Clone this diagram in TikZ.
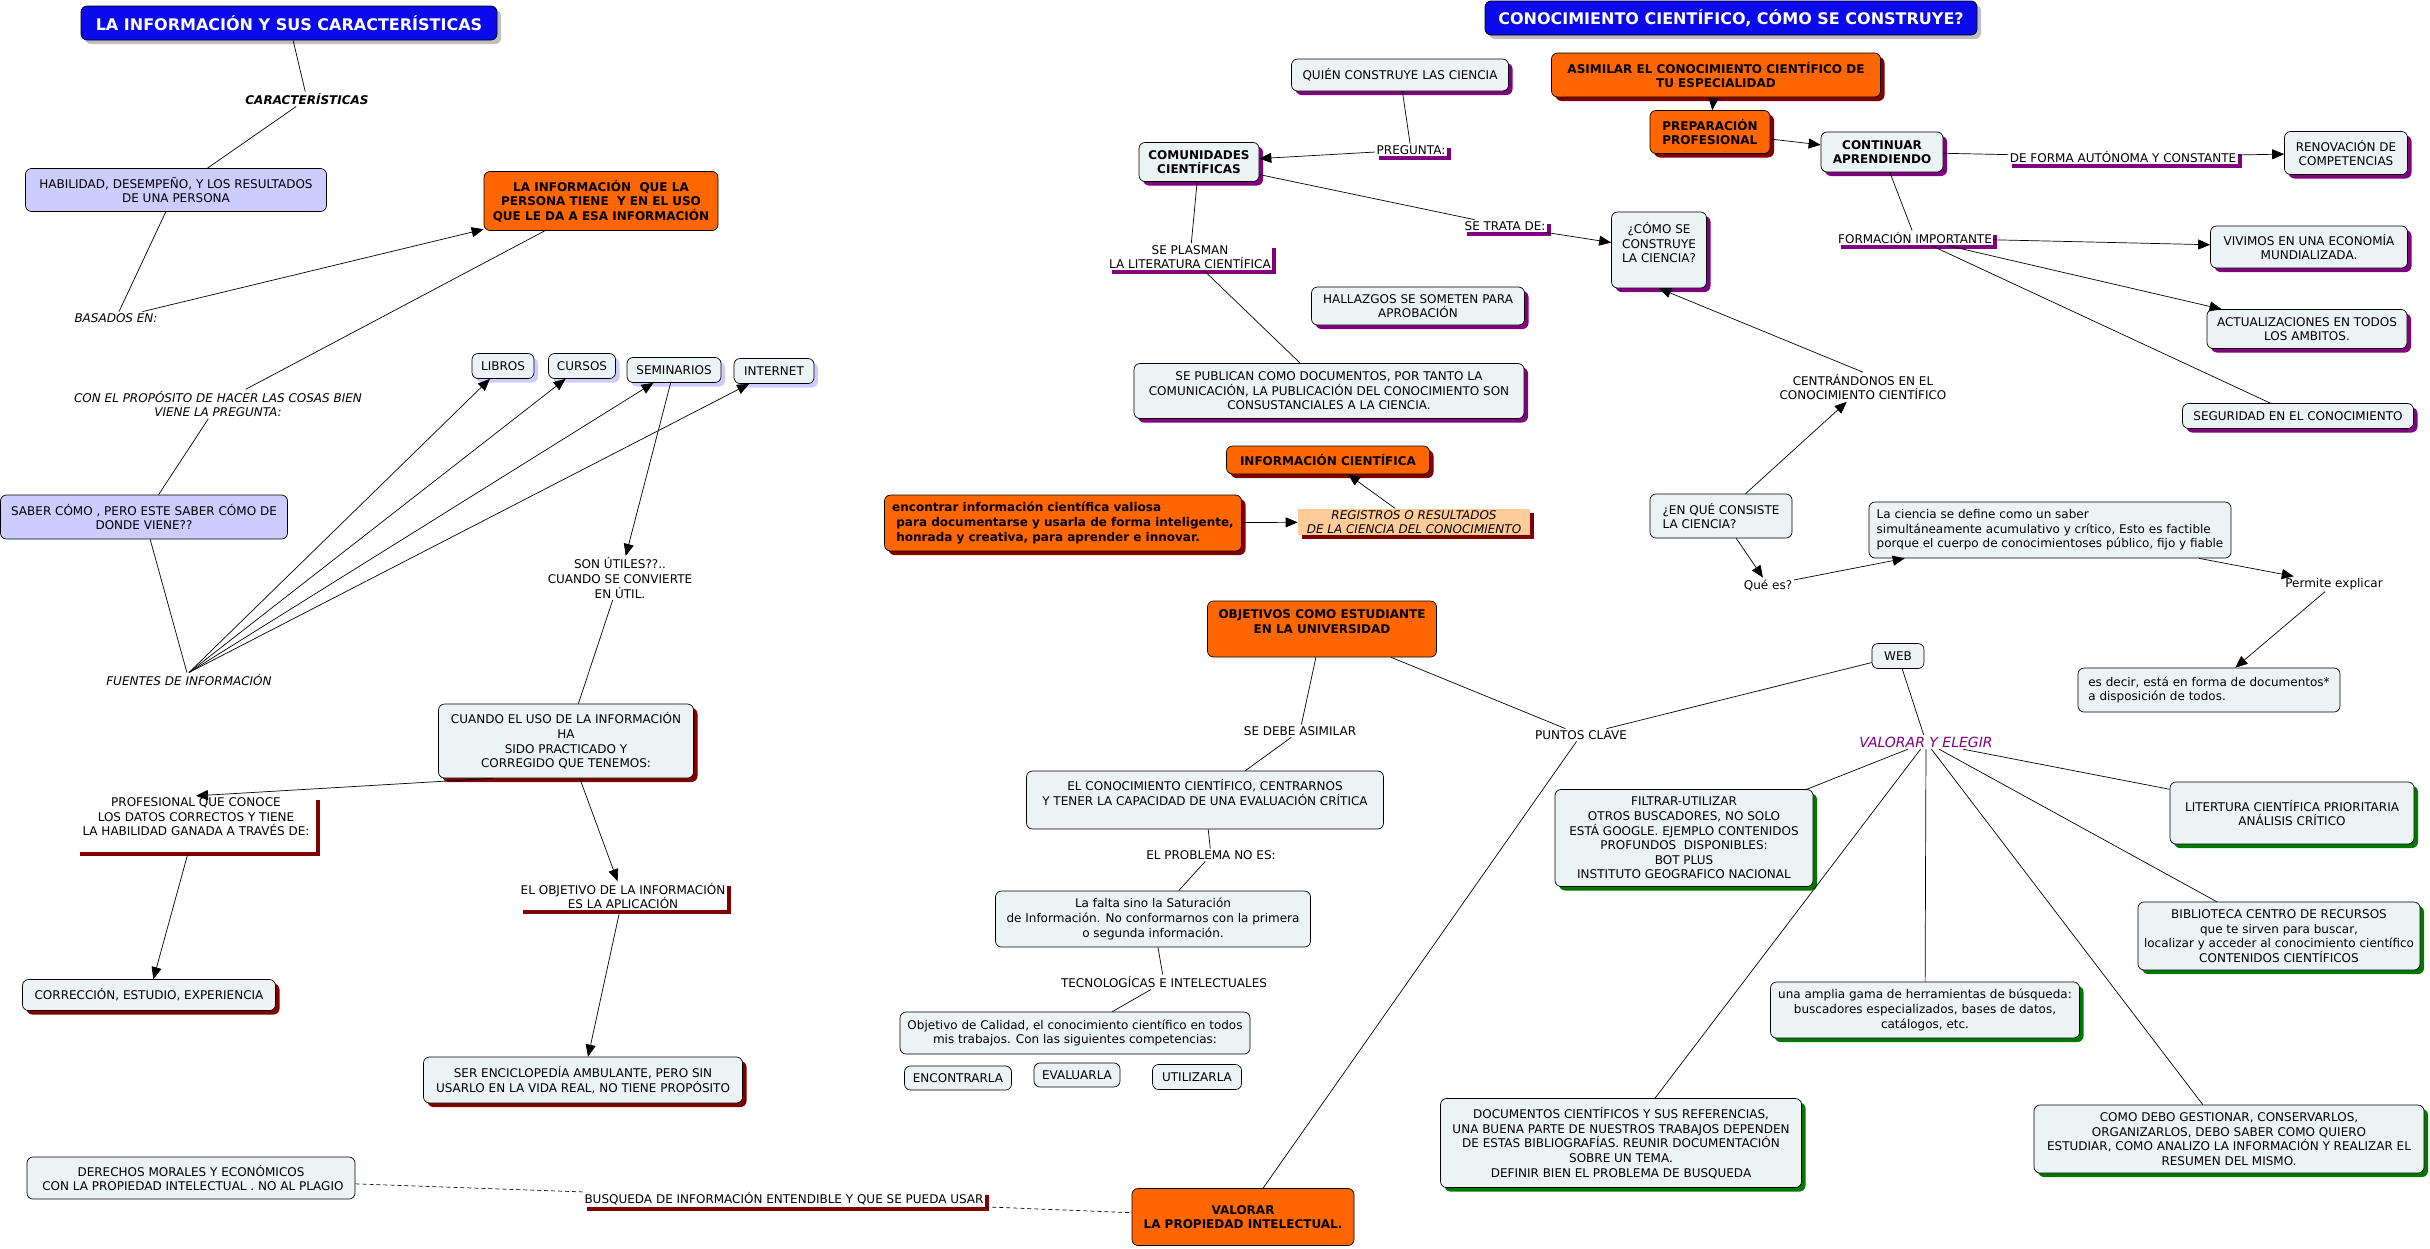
\documentclass[tikz,border=0pt]{standalone}
\usepackage{fontspec}
\setmainfont{DejaVu Sans}
\usepackage{xcolor}
\usetikzlibrary{arrows.meta, shadows}

\definecolor{cmblue}{RGB}{10,10,235}
\definecolor{cmorange}{RGB}{255,102,0}
\definecolor{cmlav}{RGB}{204,204,255}
\definecolor{cmpale}{RGB}{236,243,245}
\definecolor{cmmaroon}{RGB}{128,0,0}
\definecolor{cmpurple}{RGB}{128,0,128}
\definecolor{cmgreen}{RGB}{0,120,0}
\definecolor{cmpeach}{RGB}{255,204,153}
\definecolor{cmgrey}{RGB}{190,190,190}

\newcommand\cmfont{\fontsize{12}{14.6}\selectfont}

\tikzset{
  cbox/.style={draw=black, line width=0.7pt, rounded corners=6pt, align=center, inner xsep=5pt, inner ysep=3pt},
  palebox/.style={cbox, fill=cmpale},
  lavbox/.style={cbox, fill=cmlav},
  orbox/.style={cbox, fill=cmorange, font=\cmfont\bfseries},
  ttlbox/.style={cbox, fill=cmblue, text=white, font=\fontsize{16}{19}\selectfont\bfseries},
  shmar/.style={drop shadow={shadow xshift=4pt, shadow yshift=-4pt, fill=cmmaroon, opacity=1}},
  shpur/.style={drop shadow={shadow xshift=4pt, shadow yshift=-4pt, fill=cmpurple, opacity=1}},
  shgrn/.style={drop shadow={shadow xshift=4pt, shadow yshift=-4pt, fill=cmgreen, opacity=1}},
  shlav/.style={drop shadow={shadow xshift=4pt, shadow yshift=-4pt, fill=cmlav, opacity=1}},
  shgry/.style={drop shadow={shadow xshift=4pt, shadow yshift=-4pt, fill=cmgrey, opacity=1}},
  lnk/.style={fill=white, inner sep=1.5pt, align=center},
  lnkit/.style={lnk, font=\cmfont\itshape},
  barmar/.style={lnk, shmar},
  barpur/.style={lnk, shpur},
  arr/.style={-{Triangle[length=12pt,width=10pt]}},
  dsh/.style={dash pattern=on 4pt off 3pt}
}

\begin{document}
\begin{tikzpicture}[x=1pt, y=-1pt, font=\cmfont, line width=0.7pt]
\useasboundingbox (0,0) rectangle (2430,1248);

\node[ttlbox, shgry, minimum width=416pt, minimum height=34pt] (tinfo) at (289,23) {LA INFORMACIÓN Y SUS CARACTERÍSTICAS};
\node[lnk, font=\cmfont\bfseries\itshape] (carac) at (307,99) {CARACTERÍSTICAS};
\node[lavbox, minimum width=301pt, minimum height=43pt] (habil) at (176,190) {HABILIDAD, DESEMPEÑO, Y LOS RESULTADOS\\DE UNA PERSONA};
\node[lnkit] (basados) at (116,318) {BASADOS EN:};
\node[orbox, minimum width=234pt, minimum height=59pt] (infpers) at (601,201) {LA INFORMACIÓN \ QUE LA\\PERSONA TIENE \ Y EN EL USO\\QUE LE DA A ESA INFORMACIÓN};
\node[lnkit] (proposito) at (218,404) {CON EL PROPÓSITO DE HACER LAS COSAS BIEN\\VIENE LA PREGUNTA:};
\node[lavbox, minimum width=287pt, minimum height=44pt] (saber) at (144,517) {SABER CÓMO , PERO ESTE SABER CÓMO DE\\DONDE VIENE??};
\node[lnkit] (fuentes) at (189,680) {FUENTES DE INFORMACIÓN};
\node[palebox, shlav, minimum width=62pt, minimum height=25pt] (libros) at (503,366) {LIBROS};
\node[palebox, shlav, minimum width=67pt, minimum height=25pt] (cursos) at (582,366) {CURSOS};
\node[palebox, shlav, minimum width=94pt, minimum height=25pt] (semin) at (674,370) {SEMINARIOS};
\node[palebox, shlav, minimum width=80pt, minimum height=25pt] (internet) at (774,371) {INTERNET};
\node[lnk] (utiles) at (620,578) {SON ÚTILES??..\\CUANDO SE CONVIERTE\\EN ÚTIL.};
\node[palebox, shmar, minimum width=255pt, minimum height=74pt] (cuando) at (566,741) {CUANDO EL USO DE LA INFORMACIÓN \\HA\\SIDO PRACTICADO Y\\CORREGIDO QUE TENEMOS:};
\node[barmar, minimum width=240pt] (profes) at (196,824) {PROFESIONAL QUE CONOCE\\LOS DATOS CORRECTOS Y TIENE\\LA HABILIDAD GANADA A TRAVÉS DE:\\~};
\node[palebox, shmar, minimum width=253pt, minimum height=31pt] (correc) at (149,995) {CORRECCIÓN, ESTUDIO, EXPERIENCIA};
\node[barmar] (objinf) at (623,896) {EL OBJETIVO DE LA INFORMACIÓN\\ES LA APLICACIÓN};
\node[palebox, shmar, minimum width=319pt, minimum height=46pt] (ser) at (583,1080) {SER ENCICLOPEDÍA AMBULANTE, PERO SIN\\USARLO EN LA VIDA REAL, NO TIENE PROPÓSITO};
\node[palebox, minimum width=328pt, minimum height=42pt] (derechos) at (191,1178) {DERECHOS MORALES Y ECONÓMICOS\\~CON LA PROPIEDAD INTELECTUAL . NO AL PLAGIO};
\node[barmar] (busq) at (784,1199) {BUSQUEDA DE INFORMACIÓN ENTENDIBLE Y QUE SE PUEDA USAR};
\node[orbox, minimum width=222pt, minimum height=57pt] (valprop) at (1243,1217) {VALORAR\\LA PROPIEDAD INTELECTUAL.};

\node[ttlbox, shgry, minimum width=492pt, minimum height=34pt] (tcono) at (1731,18) {CONOCIMIENTO CIENTÍFICO, CÓMO SE CONSTRUYE?};
\node[palebox, shpur, minimum width=217pt, minimum height=32pt] (quien) at (1400,75) {QUIÉN CONSTRUYE LAS CIENCIA};
\node[barpur] (pregunta) at (1411,150) {PREGUNTA:};
\node[palebox, shpur, font=\cmfont\bfseries, minimum width=120pt, minimum height=39pt] (comun) at (1199,162) {COMUNIDADES\\CIENTÍFICAS};
\node[barpur] (plasman) at (1190,257) {SE PLASMAN\\LA LITERATURA CIENTÍFICA};
\node[palebox, shpur, minimum width=213pt, minimum height=38pt] (hallazgos) at (1418,306) {HALLAZGOS SE SOMETEN PARA\\APROBACIÓN};
\node[palebox, shpur, minimum width=390pt, minimum height=55pt] (publican) at (1329,391) {SE PUBLICAN COMO DOCUMENTOS, POR TANTO LA\\COMUNICACIÓN, LA PUBLICACIÓN DEL CONOCIMIENTO SON\\CONSUSTANCIALES A LA CIENCIA.};
\node[barpur] (trata) at (1505,226) {SE TRATA DE:};
\node[palebox, shpur, minimum width=95pt, minimum height=76pt] (comose) at (1659,250) {¿CÓMO SE\\CONSTRUYE\\LA CIENCIA?\\~};
\node[orbox, shmar, minimum width=329pt, minimum height=44pt] (asimilar) at (1716,75) {ASIMILAR EL CONOCIMIENTO CIENTÍFICO DE\\TU ESPECIALIDAD};
\node[orbox, shmar, align=left, minimum width=120pt, minimum height=43pt] (prepar) at (1710,132) {PREPARACIÓN\\PROFESIONAL};
\node[palebox, shpur, font=\cmfont\bfseries, minimum width=122pt, minimum height=40pt] (contin) at (1882,152) {CONTINUAR\\APRENDIENDO};
\node[barpur] (deforma) at (2123,157) {DE FORMA AUTÓNOMA Y CONSTANTE};
\node[palebox, shpur, minimum width=123pt, minimum height=43pt] (renov) at (2346,153) {RENOVACIÓN DE\\COMPETENCIAS};
\node[barpur] (formac) at (1915,238) {FORMACIÓN IMPORTANTE};
\node[palebox, shpur, minimum width=197pt, minimum height=42pt] (vivimos) at (2309,247) {VIVIMOS EN UNA ECONOMÍA\\MUNDIALIZADA.};
\node[palebox, shpur, minimum width=200pt, minimum height=39pt] (actual) at (2307,329) {ACTUALIZACIONES EN TODOS\\LOS AMBITOS.};
\node[palebox, shpur, minimum width=231pt, minimum height=25pt] (segur) at (2298,416) {SEGURIDAD EN EL CONOCIMIENTO};
\node[lnk] (centr) at (1863,387) {CENTRÁNDONOS EN EL\\CONOCIMIENTO CIENTÍFICO};
\node[palebox, align=left, minimum width=142pt, minimum height=44pt] (enque) at (1721,516) {¿EN QUÉ CONSISTE\\LA CIENCIA?};
\node[lnk] (quees) at (1768,585) {Qué es?};
\node[palebox, align=left, minimum width=362pt, minimum height=56pt] (ciencia) at (2050,530) {La ciencia se define como un saber\\simultáneamente acumulativo y crítico, Esto es factible\\porque el cuerpo de conocimientoses público, fijo y fiable};
\node[lnk] (permite) at (2334,584) {Permite explicar};
\node[palebox, align=left, minimum width=262pt, minimum height=44pt] (esdecir) at (2209,690) {es decir, está en forma de documentos*\\a disposición de todos.};

\node[orbox, shmar, minimum width=203pt, minimum height=28pt] (infcien) at (1328,460) {INFORMACIÓN CIENTÍFICA};
\node[lnk, fill=cmpeach, shmar, font=\cmfont\itshape, minimum width=232pt] (registros) at (1414,522) {REGISTROS O RESULTADOS\\DE LA CIENCIA DEL CONOCIMIENTO};
\node[orbox, shmar, align=left, minimum width=357pt, minimum height=56pt] (encontrar) at (1063,523) {encontrar información científica valiosa\\~para documentarse y usarla de forma inteligente,\\~honrada y creativa, para aprender e innovar.};
\node[orbox, minimum width=229pt, minimum height=56pt] (objest) at (1322,629) {OBJETIVOS COMO ESTUDIANTE\\EN LA UNIVERSIDAD\\~};
\node[lnk] (sedebe) at (1300,731) {SE DEBE ASIMILAR};
\node[palebox, minimum width=357pt, minimum height=58pt] (elconoc) at (1205,800) {EL CONOCIMIENTO CIENTÍFICO, CENTRARNOS\\Y TENER LA CAPACIDAD DE UNA EVALUACIÓN CRÍTICA\\~};
\node[lnk] (problema) at (1211,855) {EL PROBLEMA NO ES:};
\node[palebox, minimum width=315pt, minimum height=56pt] (lafalta) at (1153,919) {La falta sino la Saturación\\de Información. No conformarnos con la primera\\o segunda información.};
\node[lnk] (tecno) at (1164,982) {TECNOLOGÍCAS E INTELECTUALES};
\node[palebox, minimum width=350pt, minimum height=42pt] (calidad) at (1075,1033) {Objetivo de Calidad, el conocimiento científico en todos\\mis trabajos. Con las siguientes competencias:};
\node[palebox, minimum width=107pt, minimum height=24pt] (encontr) at (958,1078) {ENCONTRARLA};
\node[palebox, minimum width=86pt, minimum height=24pt] (evalu) at (1077,1075) {EVALUARLA};
\node[palebox, minimum width=89pt, minimum height=25pt] (utiliz) at (1197,1077) {UTILIZARLA};
\node[lnk] (puntos) at (1581,735) {PUNTOS CLAVE};
\node[palebox, minimum width=52pt, minimum height=25pt] (web) at (1898,656) {WEB};
\node[lnk, text=cmpurple, font=\fontsize{14}{17}\selectfont\itshape] (velegir) at (1926,742) {VALORAR Y ELEGIR};
\node[palebox, shgrn, minimum width=258pt, minimum height=97pt] (filtrar) at (1684,838) {FILTRAR-UTILIZAR\\OTROS BUSCADORES, NO SOLO\\ESTÁ GOOGLE. EJEMPLO CONTENIDOS\\PROFUNDOS \ DISPONIBLES:\\BOT PLUS\\INSTITUTO GEOGRAFICO NACIONAL};
\node[palebox, shgrn, minimum width=244pt, minimum height=62pt] (litertura) at (2292,813) {LITERTURA CIENTÍFICA PRIORITARIA\\ANÁLISIS CRÍTICO};
\node[palebox, shgrn, minimum width=282pt, minimum height=68pt] (biblio) at (2279,936) {BIBLIOTECA CENTRO DE RECURSOS\\que te sirven para buscar,\\localizar y acceder al conocimiento científico\\CONTENIDOS CIENTÍFICOS};
\node[palebox, shgrn, minimum width=309pt, minimum height=56pt] (amplia) at (1925,1010) {una amplia gama de herramientas de búsqueda:\\buscadores especializados, bases de datos,\\catálogos, etc.};
\node[palebox, shgrn, minimum width=361pt, minimum height=89pt] (documentos) at (1621,1143) {DOCUMENTOS CIENTÍFICOS Y SUS REFERENCIAS,\\UNA BUENA PARTE DE NUESTROS TRABAJOS DEPENDEN\\DE ESTAS BIBLIOGRAFÍAS. REUNIR DOCUMENTACIÓN\\SOBRE UN TEMA.\\DEFINIR BIEN EL PROBLEMA DE BUSQUEDA};
\node[palebox, shgrn, minimum width=390pt, minimum height=68pt] (comodebo) at (2229,1139) {COMO DEBO GESTIONAR, CONSERVARLOS,\\ORGANIZARLOS, DEBO SABER COMO QUIERO\\ESTUDIAR, COMO ANALIZO LA INFORMACIÓN Y REALIZAR EL\\RESUMEN DEL MISMO.};

\draw (tinfo) -- (carac);
\draw (carac) -- (habil);
\draw (habil) -- (basados);
\draw[arr] (basados) -- (infpers);
\draw (infpers) -- (proposito);
\draw (proposito) -- (saber);
\draw (saber) -- (fuentes);
\foreach \n in {libros,cursos,semin,internet}
  \draw[arr] (fuentes.north) -- (\n);
\draw[arr] (semin) -- (utiles);
\draw (utiles) -- (cuando);
\draw[arr] (cuando.207) -- (profes.north);
\draw[arr] (profes) -- (correc);
\draw[arr] (cuando) -- (objinf);
\draw[arr] (objinf) -- (ser);
\draw[dsh] (derechos) -- (busq);
\draw[dsh] (busq) -- (valprop);

\draw (quien) -- (pregunta);
\draw[arr] (pregunta) -- (comun);
\draw (comun) -- (plasman);
\draw (plasman) -- (publican);
\draw (comun) -- (trata);
\draw[arr] (trata) -- (comose);
\draw[arr] (enque) -- (centr);
\draw[arr] (centr.north) -- (comose.south);
\draw[arr] (enque) -- (quees);
\draw[arr] (quees) -- (ciencia);
\draw[arr] (ciencia) -- (permite);
\draw[arr] (permite) -- (esdecir);
\draw[arr] (asimilar) -- (prepar);
\draw[arr] (prepar) -- (contin);
\draw (contin) -- (deforma);
\draw[arr] (deforma) -- (renov);
\draw (contin) -- (formac);
\draw[arr] (formac) -- (vivimos);
\draw[arr] (formac) -- (actual);
\draw (formac) -- (segur);
\draw[arr] (encontrar) -- (registros);
\draw[arr] (registros) -- (infcien);
\draw (objest) -- (sedebe);
\draw (sedebe) -- (elconoc);
\draw (elconoc) -- (problema);
\draw (problema) -- (lafalta);
\draw (lafalta) -- (tecno);
\draw (tecno) -- (calidad);
\draw (objest) -- (puntos);
\draw (puntos) -- (valprop);
\draw (web) -- (puntos);
\draw (web) -- (velegir);
\foreach \n in {filtrar,litertura,biblio,amplia,documentos,comodebo}
  \draw (velegir) -- (\n);
\end{tikzpicture}
\end{document}
